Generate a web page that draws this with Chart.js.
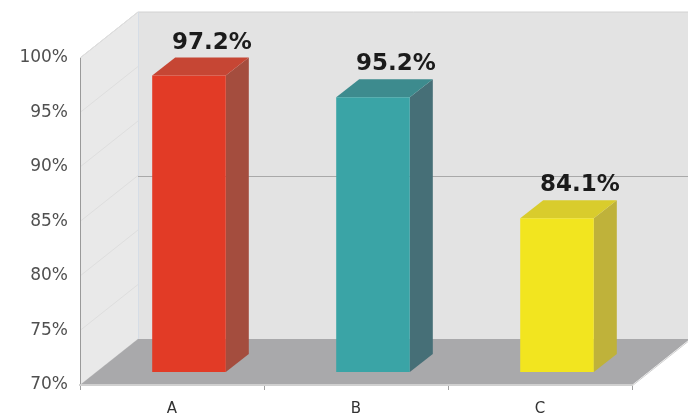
<!DOCTYPE html>
<html>
<head>
<meta charset="utf-8">
<script src="https://cdn.jsdelivr.net/npm/chart.js@4/dist/chart.umd.min.js"></script>
<style>
  html, body { margin: 0; padding: 0; background: #fff; }
  #wrap { width: 688px; height: 417px; }
</style>
</head>
<body>
<div id="wrap"><canvas id="rateChart" width="688" height="417"></canvas></div>
<script>
// data
const categories = ['A', 'B', 'C'];
const rates = [97.2, 95.2, 84.1];
const yTicks = [70, 75, 80, 85, 90, 95, 100];
const backGridValues = [85];

// colours per bar: front / side / top
const frontColors = ['#e23b26', '#3aa4a6', '#f2e51f'];
const sideColors = ['#a44d3e', '#466f77', '#bfb23a'];
const topColors = ['#c64634', '#3d8b8e', '#d9cc2c'];

// 3d geometry
const DEPTH = { x: 58, y: -46 };      // walls
const BAR_SHIFT = { x: 17, y: -13 };  // bar placement inside the box
const BAR_DEPTH = { x: 23, y: -18 };  // bar thickness

function poly(ctx, pts, fill) {
    ctx.beginPath();
    ctx.moveTo(pts[0][0], pts[0][1]);
    for (let i = 1; i < pts.length; i++) ctx.lineTo(pts[i][0], pts[i][1]);
    ctx.closePath();
    ctx.fillStyle = fill;
    ctx.fill();
}

const wallsPlugin = {
    id: 'walls',
    beforeDraw(chart) {
        const { ctx, chartArea: a, scales: { y } } = chart;
        const dx = DEPTH.x, dy = DEPTH.y;
        ctx.save();
        // side wall
        poly(ctx, [[a.left, a.top], [a.left + dx, a.top + dy], [a.left + dx, a.bottom + dy], [a.left, a.bottom]], '#e9e9e9');
        // back wall
        poly(ctx, [[a.left + dx, a.top + dy], [a.right + dx, a.top + dy], [a.right + dx, a.bottom + dy], [a.left + dx, a.bottom + dy]], '#e3e3e3');
        ctx.strokeStyle = '#d2d2d2';
        ctx.lineWidth = 1;
        ctx.beginPath();
        ctx.moveTo(a.left, a.top);
        ctx.lineTo(a.left + dx, a.top + dy);
        ctx.lineTo(a.right + dx, a.top + dy);
        ctx.stroke();
        ctx.strokeStyle = '#d6dde6';
        ctx.beginPath();
        ctx.moveTo(a.left + dx + 0.5, a.top + dy);
        ctx.lineTo(a.left + dx + 0.5, a.bottom + dy);
        ctx.stroke();
        // faint side wall grid
        ctx.strokeStyle = '#dedede';
        yTicks.forEach(v => {
            const py = y.getPixelForValue(v);
            ctx.beginPath();
            ctx.moveTo(a.left, py);
            ctx.lineTo(a.left + dx, py + dy);
            ctx.stroke();
        });
        // back wall grid
        ctx.strokeStyle = '#a9a9a9';
        backGridValues.forEach(v => {
            const py = Math.round(y.getPixelForValue(v) + dy) + 0.5;
            ctx.beginPath();
            ctx.moveTo(a.left + dx, py);
            ctx.lineTo(a.right + dx, py);
            ctx.stroke();
        });
        // floor
        poly(ctx, [[a.left, a.bottom], [a.right, a.bottom], [a.right + dx, a.bottom + dy], [a.left + dx, a.bottom + dy]], '#a9a9ab');
        ctx.strokeStyle = '#cfcfcf';
        ctx.beginPath();
        ctx.moveTo(a.right, a.bottom + 1);
        ctx.lineTo(a.right + dx, a.bottom + dy + 1);
        ctx.stroke();
        ctx.restore();
    }
};

const bars3dPlugin = {
    id: 'bars3d',
    afterDatasetsDraw(chart) {
        const { ctx } = chart;
        const meta = chart.getDatasetMeta(0);
        ctx.save();
        meta.data.forEach((bar, i) => {
            const p = bar.getProps(['x', 'y', 'base', 'width'], true);
            const l = p.x - p.width / 2 + BAR_SHIFT.x;
            const r = p.x + p.width / 2 + BAR_SHIFT.x;
            const t = p.y + BAR_SHIFT.y;
            const b = p.base + BAR_SHIFT.y;
            const ddx = BAR_DEPTH.x, ddy = BAR_DEPTH.y;
            poly(ctx, [[r, t], [r + ddx, t + ddy], [r + ddx, b + ddy], [r, b]], sideColors[i]);
            poly(ctx, [[l, t], [l + ddx, t + ddy], [r + ddx, t + ddy], [r, t]], topColors[i]);
            poly(ctx, [[l, t], [r, t], [r, b], [l, b]], frontColors[i]);
            // value label
            ctx.fillStyle = '#1b1b1b';
            ctx.font = 'bold 23px "DejaVu Sans", sans-serif';
            ctx.textAlign = 'center';
            ctx.textBaseline = 'alphabetic';
            ctx.fillText(rates[i].toFixed(1) + '%', (l + r) / 2 + ddx, t + ddy - 9);
        });
        ctx.restore();
    }
};

const ctx = document.getElementById('rateChart').getContext('2d');
new Chart(ctx, {
    type: 'bar',
    data: {
        labels: categories,
        datasets: [{
            data: rates,
            base: yTicks[0],
            backgroundColor: 'rgba(0,0,0,0)',
            barPercentage: 0.4,
            categoryPercentage: 1
        }]
    },
    options: {
        responsive: false,
        animation: false,
        events: [],
        layout: { padding: { top: 58, right: 56, left: 0, bottom: 0 } },
        plugins: {
            legend: { display: false },
            tooltip: { enabled: false }
        },
        scales: {
            y: {
                min: 70,
                max: 100,
                afterFit(scale) { scale.width = 80; },
                afterBuildTicks(scale) { scale.ticks = yTicks.map(v => ({ value: v })); },
                ticks: {
                    padding: 12,
                    color: '#505050',
                    font: { family: '"DejaVu Sans", sans-serif', size: 17 },
                    callback: v => v + '%'
                },
                grid: { display: false, drawTicks: false },
                border: { display: true, color: '#9a9a9a', width: 1 }
            },
            x: {
                afterFit(scale) { scale.height = 32; },
                ticks: {
                    padding: 10,
                    color: '#333',
                    font: { family: '"DejaVu Sans", sans-serif', size: 15 }
                },
                grid: {
                    offset: true,
                    drawOnChartArea: false,
                    drawTicks: true,
                    tickLength: 5,
                    color: '#a0a0a0'
                },
                border: { display: true, color: '#d0d0d0', width: 2 }
            }
        }
    },
    plugins: [wallsPlugin, bars3dPlugin]
});
</script>
</body>
</html>
